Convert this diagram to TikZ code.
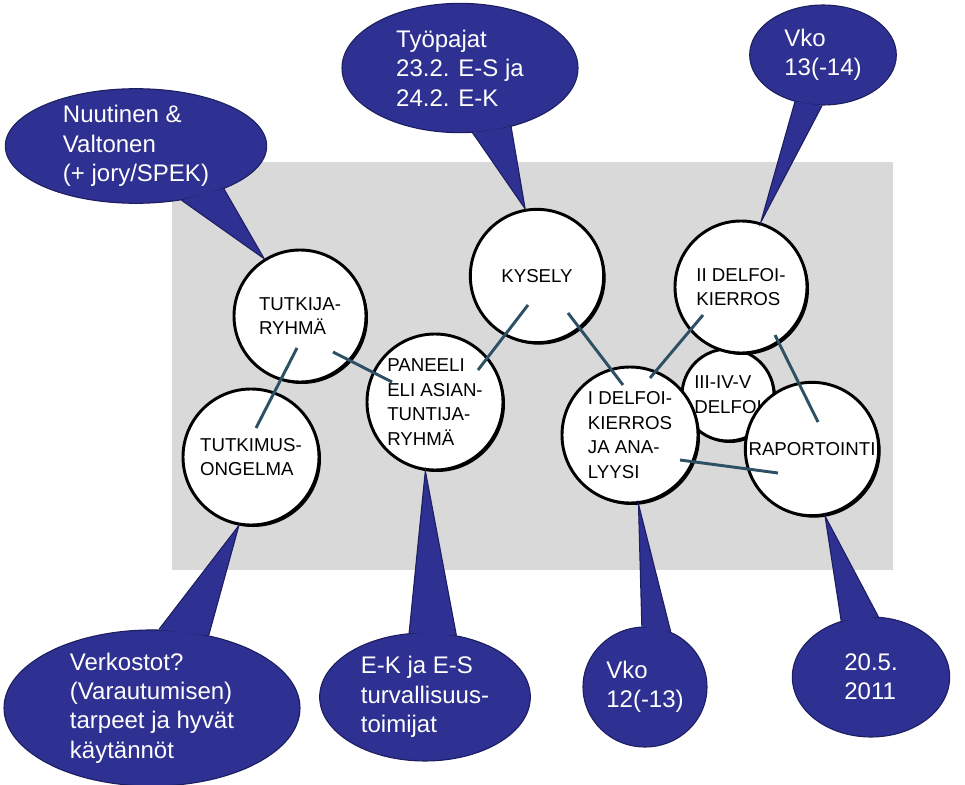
\documentclass[tikz,border=0pt]{standalone}
\usepackage{fontspec}
\setmainfont{Liberation Sans}
\usetikzlibrary{shapes.geometric,shadows,calc}
\definecolor{bubblue}{RGB}{46,48,146}
\definecolor{bubedge}{RGB}{28,30,95}
\definecolor{linkcol}{RGB}{45,80,100}

\begin{document}
\begin{tikzpicture}[x=0.75pt,y=-0.75pt,
  phase/.style={circle,draw=black,line width=2.2pt,fill=white,minimum size=#1,inner sep=0pt,align=left,
    font=\fontsize{14}{18.5}\selectfont,
    drop shadow={shadow xshift=1.5pt,shadow yshift=-1.5pt,fill=black,opacity=1}},
  bubble/.style={ellipse,fill=bubblue,draw=bubedge,line width=0.8pt,text=white,align=left,inner sep=0pt,
    font=\fontsize{18}{22}\selectfont},
  bubtail/.style={fill=bubblue,draw=bubedge,line width=0.8pt},
  link/.style={draw=linkcol,line width=2.2pt}
]

\def\spike#1#2#3#4;{
  \filldraw[bubtail] (#1.#2) -- (#4) -- (#1.#3);
}

\useasboundingbox (0,0) rectangle (965,785);
\fill[black!15] (172,162) rectangle (893,570);

% phases
\node[phase=99pt] (tutkija) at (300,316) {TUTKIJA-\\RYHMÄ};
\node[phase=102pt] (tutkimus) at (251,457) {TUTKIMUS-\\ONGELMA};
\node[phase=102pt] (paneeli) at (435,402) {PANEELI\\ELI ASIAN-\\TUNTIJA-\\RYHMÄ};
\node[phase=100pt] (kysely) at (537,276) {KYSELY};
\node[phase=69pt] (delfoi3) at (728,395) {III-IV-V\\DELFOI};
\node[phase=99pt] (delfoi2) at (741,287) {II DELFOI-\\KIERROS};
\node[phase=102pt] (delfoi1) at (630,435) {I DELFOI-\\KIERROS\\JA ANA-\\LYYSI};
\node[phase=100pt] (raport) at (812,449) {RAPORTOINTI};

\draw[link] ($(tutkija)+(-3,32)$) -- ($(tutkimus)+(5,-29)$);
\draw[link] ($(tutkija)+(33,36)$) -- ($(paneeli)+(-43,-20)$);
\draw[link] ($(paneeli)+(43,-32)$) -- ($(kysely)+(-9,29)$);
\draw[link] ($(kysely)+(31,37)$) -- ($(delfoi1)+(-7,-50)$);
\draw[link] ($(delfoi1)+(20,-57)$) -- ($(delfoi2)+(-38,28)$);
\draw[link] ($(delfoi2)+(34,48)$) -- ($(raport)+(6,-27)$);
\draw[link] ($(delfoi1)+(50,25)$) -- ($(raport)+(-34,24)$);

% callouts
\coordinate (tipA) at (tutkija.122);
\coordinate (tipB) at (kysely.100);
\coordinate (tipC) at (delfoi2.73);
\coordinate (tipD) at (tutkimus.-100);
\coordinate (tipE) at (paneeli.-98);
\coordinate (tipF) at (delfoi1.-83);
\coordinate (tipG) at (raport.-79);

\node[bubble,minimum width=196pt,minimum height=81pt] (bubA) at (136,146)
  {Nuutinen \&\\Valtonen\\(+ jory/SPEK)};
\spike{bubA}{-50}{-26}{tipA};
\node[bubble,minimum width=177pt,minimum height=97pt] (bubB) at (460,68)
  {Työpajat\\23.2. E-S ja\\24.2. E-K};
\spike{bubB}{-79}{-49}{tipB};
\node[bubble,minimum width=110pt,minimum height=75pt] (bubC) at (823,55)
  {Vko\\13(-14)};
\spike{bubC}{-121}{-91}{tipC};
\node[bubble,minimum width=222pt,minimum height=110pt] (bubD) at (152,708)
  {Verkostot?\\(Varautumisen)\\tarpeet ja hyvät\\käytännöt};
\spike{bubD}{85}{52}{tipD};
\node[bubble,minimum width=158pt,minimum height=96pt] (bubE) at (425,697)
  {E-K ja E-S\\turvallisuus-\\toimijat};
\spike{bubE}{104}{63}{tipE};
\node[bubble,minimum width=93pt,minimum height=90pt] (bubF) at (645,687)
  {Vko\\12(-13)};
\spike{bubF}{93}{65}{tipF};
\node[bubble,minimum width=118pt,minimum height=90pt] (bubG) at (871,677)
  {20.5.\\2011};
\spike{bubG}{118}{83}{tipG};

\end{tikzpicture}
\end{document}
